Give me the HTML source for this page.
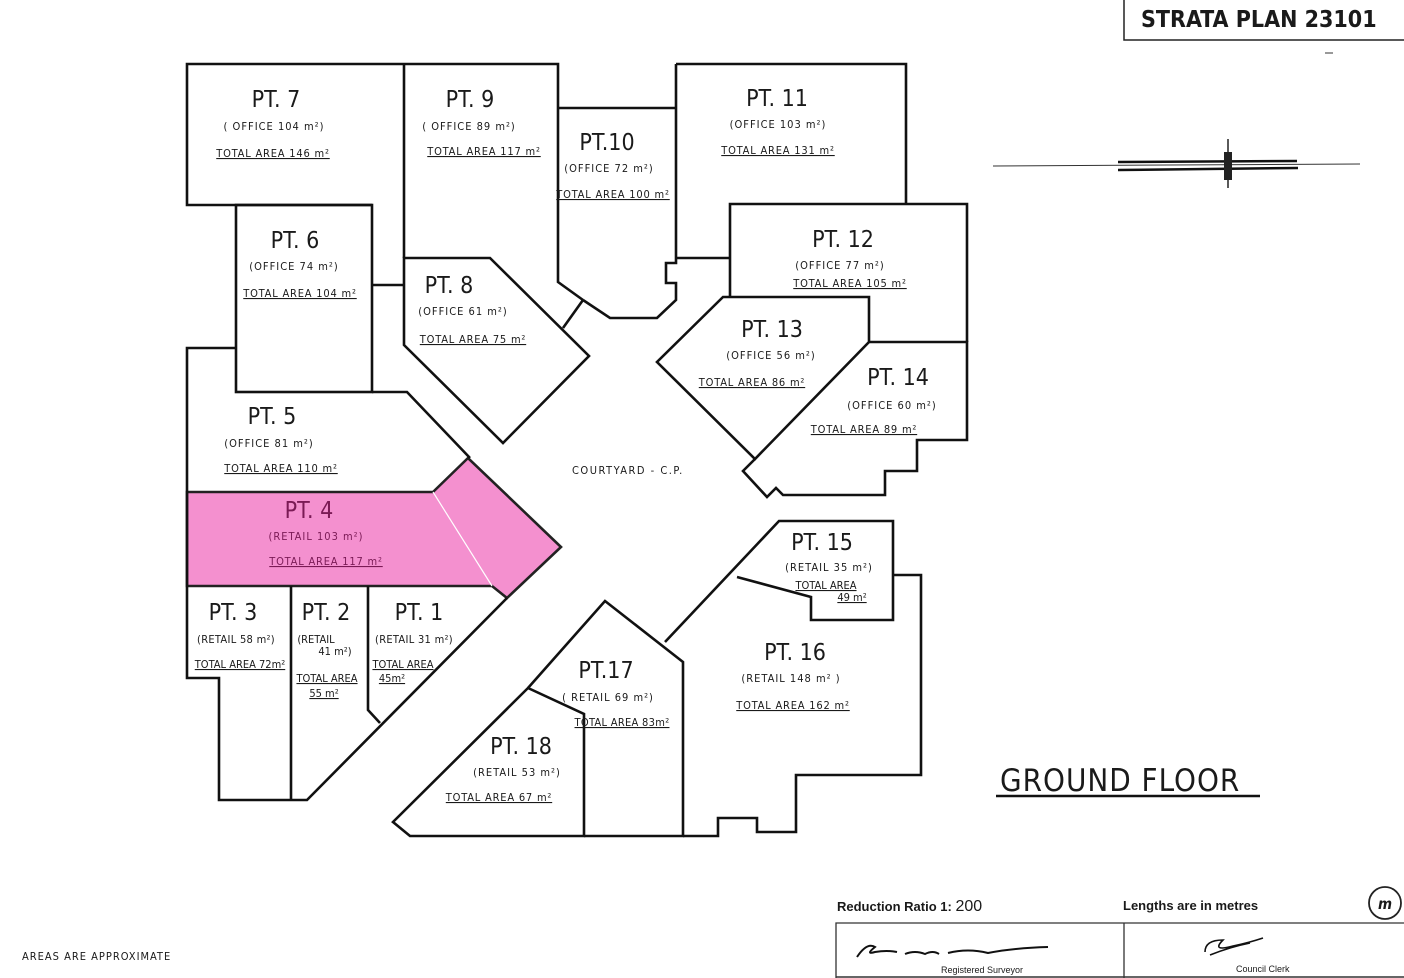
<!DOCTYPE html>
<html><head><meta charset="utf-8"><style>
html,body{margin:0;padding:0;background:#fff;}
svg{display:block;}
text{font-family:"DejaVu Sans Condensed","DejaVu Sans","Liberation Sans",sans-serif;fill:#1a1a1a;}
.t{font-size:23px;}
.s{font-size:11px;letter-spacing:1px;}
.u{font-size:11px;letter-spacing:0.8px;text-decoration:underline;}
</style></head><body>
<svg width="1404" height="978" viewBox="0 0 1404 978" xmlns="http://www.w3.org/2000/svg">
<g fill="none" stroke="#111" stroke-width="2.6" stroke-linejoin="miter">
<polygon points="187,492 433,492 468,458 561,547 507,598 492,586 187,586" fill="#f490cf" stroke="#222"/>
<line x1="433" y1="492" x2="492" y2="586" stroke="#fff" stroke-width="1.2"/>
<polyline points="372,205 187,205 187,64 404,64"/>
<polyline points="404,64 558,64 558,282 583,300"/>
<line x1="404" y1="64" x2="404" y2="258"/>
<polyline points="558,108 676,108"/>
<polyline points="583,300 610,318 657,318 676,300 676,283 666,283 666,263 676,263 676,64"/>
<line x1="563" y1="328" x2="583" y2="300"/>
<polyline points="676,64 906,64 906,204"/>
<line x1="676" y1="258" x2="730" y2="258"/>
<polyline points="730,297 730,204 967,204 967,342"/>
<polygon points="723,297 869,297 869,342 755,459 657,362"/>
<polyline points="869,342 967,342 967,440 917,440 917,471 885,471 885,495 783,495 776,488 767,497 743,471 755,459"/>
<rect x="236" y="205" width="136" height="187"/>
<line x1="372" y1="285" x2="404" y2="285"/>
<polygon points="404,258 490,258 589,356 503,443 404,345"/>
<polyline points="236,348 187,348 187,586"/>
<polyline points="372,392 407,392 470,458"/>
<polyline points="187,586 187,678 219,678 219,800 307,800 507,598"/>
<line x1="291" y1="586" x2="291" y2="800"/>
<polyline points="368,586 368,710 380,723"/>
<polyline points="665,642 779,521 893,521 893,620 811,620 811,597 737,577"/>
<polyline points="893,575 921,575 921,775 796,775 796,832 757,832 757,818 718,818 718,836 683,836"/>
<polyline points="528,688 605,601 683,662 683,836 584,836"/>
<polygon points="528,688 584,714 584,836 410,836 393,822"/>
</g>
<g text-anchor="middle">
<text class="t" x="276" y="107">PT. 7</text><text class="s" x="274" y="130">( OFFICE  104 m²)</text><text class="u" x="273" y="157">TOTAL  AREA  146 m²</text>
<text class="t" x="470" y="107">PT. 9</text><text class="s" x="469" y="130">( OFFICE  89 m²)</text><text class="u" x="484" y="155">TOTAL  AREA  117 m²</text>
<text class="t" x="607" y="150">PT.10</text><text class="s" x="609" y="172">(OFFICE  72 m²)</text><text class="u" x="613" y="198">TOTAL AREA 100 m²</text>
<text class="t" x="777" y="106">PT. 11</text><text class="s" x="778" y="128">(OFFICE  103 m²)</text><text class="u" x="778" y="154">TOTAL  AREA  131 m²</text>
<text class="t" x="843" y="247">PT. 12</text><text class="s" x="840" y="269">(OFFICE  77 m²)</text><text class="u" x="850" y="287">TOTAL  AREA  105 m²</text>
<text class="t" x="772" y="337">PT. 13</text><text class="s" x="771" y="359">(OFFICE  56 m²)</text><text class="u" x="752" y="386">TOTAL  AREA  86 m²</text>
<text class="t" x="898" y="385">PT. 14</text><text class="s" x="892" y="409">(OFFICE  60 m²)</text><text class="u" x="864" y="433">TOTAL  AREA  89 m²</text>
<text class="t" x="295" y="248">PT. 6</text><text class="s" x="294" y="270">(OFFICE  74 m²)</text><text class="u" x="300" y="297">TOTAL  AREA  104 m²</text>
<text class="t" x="449" y="293">PT. 8</text><text class="s" x="463" y="315">(OFFICE  61 m²)</text><text class="u" x="473" y="343">TOTAL  AREA  75 m²</text>
<text class="t" x="272" y="424">PT. 5</text><text class="s" x="269" y="447">(OFFICE  81 m²)</text><text class="u" x="281" y="472">TOTAL  AREA  110 m²</text>
<text class="t" x="309" y="518" style="fill:#7a1a55">PT. 4</text><text class="s" x="316" y="540" style="fill:#7a1a55">(RETAIL  103 m²)</text><text class="u" x="326" y="565" style="fill:#7a1a55">TOTAL  AREA   117 m²</text>
<text class="t" x="233" y="620">PT. 3</text><text class="s" x="236" y="643" style="letter-spacing:0.3px">(RETAIL  58 m²)</text><text class="u" x="240" y="668" style="letter-spacing:0">TOTAL AREA 72m²</text>
<text class="t" x="326" y="620">PT. 2</text><text class="s" x="316" y="643" style="letter-spacing:0">(RETAIL</text><text class="s" x="335" y="655" style="letter-spacing:0">41 m²)</text><text class="u" x="327" y="682" style="letter-spacing:0">TOTAL AREA</text><text class="u" x="324" y="697" style="letter-spacing:0">55 m²</text>
<text class="t" x="419" y="620">PT. 1</text><text class="s" x="414" y="643" style="letter-spacing:0.3px">(RETAIL  31 m²)</text><text class="u" x="403" y="668" style="letter-spacing:0">TOTAL AREA</text><text class="u" x="392" y="682" style="letter-spacing:0">45m²</text>
<text class="t" x="822" y="550">PT. 15</text><text class="s" x="829" y="571">(RETAIL  35 m²)</text><text class="u" x="826" y="589" style="letter-spacing:0">TOTAL AREA</text><text class="u" x="852" y="601" style="letter-spacing:0">49 m²</text>
<text class="t" x="795" y="660">PT. 16</text><text class="s" x="791" y="682">(RETAIL  148 m² )</text><text class="u" x="793" y="709">TOTAL  AREA  162 m²</text>
<text class="t" x="606" y="678">PT.17</text><text class="s" x="608" y="701">( RETAIL  69 m²)</text><text class="u" x="622" y="726" style="letter-spacing:0.3px">TOTAL AREA 83m²</text>
<text class="t" x="521" y="754">PT. 18</text><text class="s" x="517" y="776">(RETAIL  53 m²)</text><text class="u" x="499" y="801">TOTAL AREA  67 m²</text>
</g>
<text x="572" y="474" style="font-size:11px;letter-spacing:1.5px">COURTYARD - C.P.</text>
<polyline points="1124,0 1124,40 1404,40" fill="none" stroke="#222" stroke-width="1.5"/>
<text x="1141" y="27" style="font-size:23px;font-weight:bold;font-family:'Liberation Sans Narrow','DejaVu Sans Condensed',sans-serif">STRATA  PLAN 23101</text>
<line x1="1325" y1="53" x2="1333" y2="53" stroke="#333" stroke-width="1"/>
<line x1="993" y1="166" x2="1360" y2="164" stroke="#333" stroke-width="1"/>
<line x1="1118" y1="162" x2="1297" y2="161" stroke="#111" stroke-width="2.5"/>
<line x1="1118" y1="170" x2="1298" y2="168" stroke="#111" stroke-width="2.5"/>
<rect x="1224" y="152" width="8" height="28" fill="#222"/>
<line x1="1228" y1="139" x2="1228" y2="188" stroke="#222" stroke-width="1.5"/>
<text x="1000" y="791" style="font-size:31px;letter-spacing:1px">GROUND  FLOOR</text>
<line x1="996" y1="796" x2="1260" y2="796" stroke="#111" stroke-width="2.5"/>
<text x="837" y="911" style="font-size:13px;font-weight:bold;font-family:'Liberation Sans',sans-serif">Reduction Ratio 1: <tspan style="font-weight:normal;font-size:16px">200</tspan></text>
<text x="1123" y="910" style="font-size:13px;font-weight:bold;font-family:'Liberation Sans',sans-serif">Lengths are in metres</text>
<circle cx="1385" cy="903" r="16" fill="none" stroke="#222" stroke-width="1.8"/>
<text x="1385" y="909" text-anchor="middle" style="font-size:15px;font-weight:bold;font-style:italic">m</text>
<polyline points="836,978 836,923 1404,923" fill="none" stroke="#333" stroke-width="1.3"/>
<line x1="1124" y1="923" x2="1124" y2="978" stroke="#333" stroke-width="1.3"/>
<line x1="836" y1="977" x2="1404" y2="977" stroke="#333" stroke-width="1.5"/>
<path d="M857,957 q10,-15 18,-10 q-10,8 0,5 q12,-2 22,0 M905,954 q10,-4 20,0 q8,-4 14,0 M948,953 q20,-5 40,0 q25,-5 60,-6" fill="none" stroke="#111" stroke-width="2"/>
<path d="M1205,952 q0,-12 18,-12 q-12,12 10,6 q15,-3 30,-8 M1210,955 q20,-8 40,-12" fill="none" stroke="#111" stroke-width="1.6"/>
<text x="941" y="973" style="font-size:9px;font-family:'Liberation Sans',sans-serif">Registered Surveyor</text>
<text x="1236" y="972" style="font-size:9px;font-family:'Liberation Sans',sans-serif">Council Clerk</text>
<text x="22" y="960" style="font-size:11px;letter-spacing:1px">AREAS  ARE  APPROXIMATE</text>
</svg>
</body></html>
